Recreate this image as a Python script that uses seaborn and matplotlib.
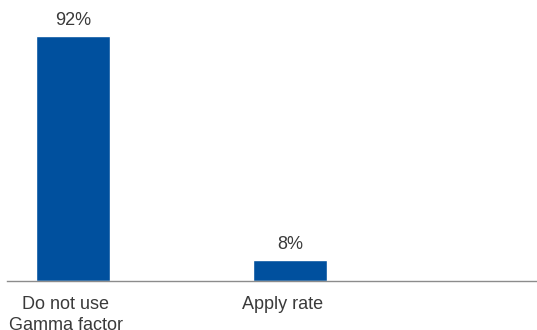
import matplotlib
matplotlib.use("Agg")
import matplotlib.pyplot as plt
import matplotlib.transforms as mtransforms
import seaborn as sns

categories = ["Do not use\nGamma factor", "Apply rate"]
values = [92, 8]
value_labels = ["92%", "8%"]

sns.set_theme(style="white")
plt.rcParams['font.family'] = ['Liberation Sans', 'DejaVu Sans']

W, H = 537, 330
fig = plt.figure(figsize=(W / 100, H / 100), dpi=100)
ax = fig.add_axes([7 / W, (H - 281) / H, 530 / W, 281 / H])

bar_color = "#00509E"
sns.barplot(x=categories, y=values, color=bar_color, saturation=1, width=0.34, ax=ax)

ax.set_xlim(-0.304, 2.138)
ax.set_ylim(0, 105.5)

for i, (v, lab) in enumerate(zip(values, value_labels)):
    ax.annotate(lab, xy=(i, v), xytext=(0, 5), textcoords="offset points",
                ha="center", va="bottom", fontsize=13, color="#3a3a3a")

for s in ["top", "left", "right"]:
    ax.spines[s].set_visible(False)
ax.spines["bottom"].set_color("#8c8c8c")
ax.spines["bottom"].set_linewidth(1.0)
ax.set_yticks([])
ax.set_xlabel("")
ax.set_ylabel("")
ax.tick_params(axis="x", length=0, pad=11, labelsize=13, labelcolor="#3a3a3a")
offset = mtransforms.ScaledTranslation(-7 / 100, 0, fig.dpi_scale_trans)
for t in ax.get_xticklabels():
    t.set_linespacing(1.3)
    t.set_transform(t.get_transform() + offset)

fig.savefig("out.png", dpi=100)
